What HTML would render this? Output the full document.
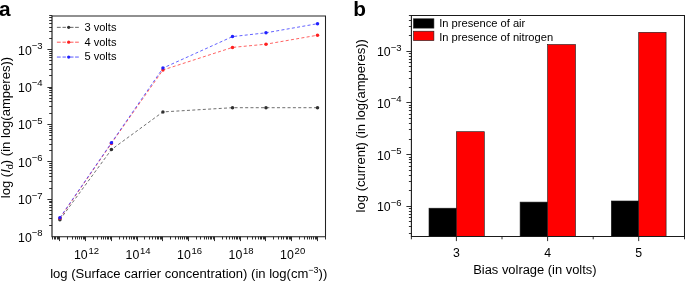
<!DOCTYPE html>
<html><head><meta charset="utf-8"><style>
html,body{margin:0;padding:0;background:#fff;width:685px;height:281px;overflow:hidden}
svg{display:block;will-change:transform}
text{font-family:"Liberation Sans",sans-serif;fill:#000}
</style></head><body>
<svg width="685" height="281" viewBox="0 0 685 281">
<path d="M52.0 16.0H325.5V236.7" fill="none" stroke="#222" stroke-width="1.05"/>
<path d="M52.0 15.5V236.7H326.0" fill="none" stroke="#1a1a1a" stroke-width="1.15"/>
<path d="M49.20 225.50H52.00 M49.20 218.50H52.00 M49.20 214.50H52.00 M49.20 210.50H52.00 M49.20 207.50H52.00 M49.20 205.50H52.00 M49.20 202.50H52.00 M49.20 201.50H52.00 M47.40 199.50H52.00 M49.20 188.50H52.00 M49.20 181.50H52.00 M49.20 176.50H52.00 M49.20 173.50H52.00 M49.20 170.50H52.00 M49.20 167.50H52.00 M49.20 165.50H52.00 M49.20 163.50H52.00 M47.40 161.50H52.00 M49.20 150.50H52.00 M49.20 144.50H52.00 M49.20 139.50H52.00 M49.20 135.50H52.00 M49.20 132.50H52.00 M49.20 130.50H52.00 M49.20 128.50H52.00 M49.20 126.50H52.00 M47.40 124.50H52.00 M49.20 113.50H52.00 M49.20 106.50H52.00 M49.20 101.50H52.00 M49.20 98.50H52.00 M49.20 95.50H52.00 M49.20 92.50H52.00 M49.20 90.50H52.00 M49.20 88.50H52.00 M47.40 87.50H52.00 M49.20 75.50H52.00 M49.20 69.50H52.00 M49.20 64.50H52.00 M49.20 60.50H52.00 M49.20 57.50H52.00 M49.20 55.50H52.00 M49.20 53.50H52.00 M49.20 51.50H52.00 M47.40 49.50H52.00 M49.20 38.50H52.00 M49.20 31.50H52.00 M49.20 27.50H52.00 M49.20 23.50H52.00 M49.20 20.50H52.00 M49.20 17.50H52.00 M49.20 15.50H52.00 M52.50 236.70V239.50 M54.50 236.70V239.50 M55.50 236.70V239.50 M57.50 236.70V239.50 M58.50 236.70V239.50 M59.50 236.70V241.10 M67.50 236.70V239.50 M72.50 236.70V239.50 M75.50 236.70V239.50 M77.50 236.70V239.50 M79.50 236.70V239.50 M81.50 236.70V239.50 M83.50 236.70V239.50 M84.50 236.70V239.50 M85.50 236.70V241.10 M93.50 236.70V239.50 M97.50 236.70V239.50 M101.50 236.70V239.50 M103.50 236.70V239.50 M105.50 236.70V239.50 M107.50 236.70V239.50 M108.50 236.70V239.50 M110.50 236.70V239.50 M111.50 236.70V241.10 M119.50 236.70V239.50 M123.50 236.70V239.50 M126.50 236.70V239.50 M129.50 236.70V239.50 M131.50 236.70V239.50 M133.50 236.70V239.50 M134.50 236.70V239.50 M136.50 236.70V239.50 M137.50 236.70V241.10 M144.50 236.70V239.50 M149.50 236.70V239.50 M152.50 236.70V239.50 M155.50 236.70V239.50 M157.50 236.70V239.50 M158.50 236.70V239.50 M160.50 236.70V239.50 M161.50 236.70V239.50 M162.50 236.70V241.10 M170.50 236.70V239.50 M175.50 236.70V239.50 M178.50 236.70V239.50 M180.50 236.70V239.50 M182.50 236.70V239.50 M184.50 236.70V239.50 M186.50 236.70V239.50 M187.50 236.70V239.50 M188.50 236.70V241.10 M196.50 236.70V239.50 M200.50 236.70V239.50 M204.50 236.70V239.50 M206.50 236.70V239.50 M208.50 236.70V239.50 M210.50 236.70V239.50 M211.50 236.70V239.50 M213.50 236.70V239.50 M214.50 236.70V241.10 M222.50 236.70V239.50 M226.50 236.70V239.50 M229.50 236.70V239.50 M232.50 236.70V239.50 M234.50 236.70V239.50 M236.50 236.70V239.50 M237.50 236.70V239.50 M239.50 236.70V239.50 M240.50 236.70V241.10 M247.50 236.70V239.50 M252.50 236.70V239.50 M255.50 236.70V239.50 M258.50 236.70V239.50 M260.50 236.70V239.50 M261.50 236.70V239.50 M263.50 236.70V239.50 M264.50 236.70V239.50 M265.50 236.70V241.10 M273.50 236.70V239.50 M278.50 236.70V239.50 M281.50 236.70V239.50 M283.50 236.70V239.50 M286.50 236.70V239.50 M287.50 236.70V239.50 M289.50 236.70V239.50 M290.50 236.70V239.50 M291.50 236.70V241.10 M299.50 236.70V239.50 M304.50 236.70V239.50 M307.50 236.70V239.50 M309.50 236.70V239.50 M311.50 236.70V239.50 M313.50 236.70V239.50 M315.50 236.70V239.50 M316.50 236.70V239.50 M317.50 236.70V241.10 M325.50 236.70V239.50" stroke="#1a1a1a" stroke-width="0.9" fill="none"/>
<text x="42.6" y="241.80" text-anchor="end" font-size="12.3">10<tspan font-size="9.5" dy="-5.6">−8</tspan></text>
<text x="42.6" y="204.35" text-anchor="end" font-size="12.3">10<tspan font-size="9.5" dy="-5.6">−7</tspan></text>
<text x="42.6" y="166.90" text-anchor="end" font-size="12.3">10<tspan font-size="9.5" dy="-5.6">−6</tspan></text>
<text x="42.6" y="129.45" text-anchor="end" font-size="12.3">10<tspan font-size="9.5" dy="-5.6">−5</tspan></text>
<text x="42.6" y="92.00" text-anchor="end" font-size="12.3">10<tspan font-size="9.5" dy="-5.6">−4</tspan></text>
<text x="42.6" y="54.55" text-anchor="end" font-size="12.3">10<tspan font-size="9.5" dy="-5.6">−3</tspan></text>
<text x="86.56" y="259" text-anchor="middle" font-size="12.3">10<tspan font-size="9.5" dx="0.8" dy="-5.0">12</tspan></text>
<text x="138.08" y="259" text-anchor="middle" font-size="12.3">10<tspan font-size="9.5" dx="0.8" dy="-5.0">14</tspan></text>
<text x="189.60" y="259" text-anchor="middle" font-size="12.3">10<tspan font-size="9.5" dx="0.8" dy="-5.0">16</tspan></text>
<text x="241.12" y="259" text-anchor="middle" font-size="12.3">10<tspan font-size="9.5" dx="0.8" dy="-5.0">18</tspan></text>
<text x="292.64" y="259" text-anchor="middle" font-size="12.3">10<tspan font-size="9.5" dx="0.8" dy="-5.0">20</tspan></text>
<text x="50.2" y="278.3" font-size="13.05">log (Surface carrier concentration) (in log(cm<tspan font-size="9" dy="-5">−3</tspan><tspan dy="5">))</tspan></text>
<text transform="translate(10.2,198.2) rotate(-90)" font-size="13.05">log (<tspan font-style="italic">I</tspan><tspan font-size="9" dy="2.5">d</tspan><tspan dy="-2.5">) (in log(amperes))</tspan></text>
<polyline points="59.90,219.70 111.42,149.60 162.94,111.90 232.49,107.70 265.98,107.70 317.50,107.70" fill="none" stroke="#303030" stroke-width="0.7" stroke-dasharray="3.0 2.3"/>
<polyline points="59.90,218.30 111.42,143.40 162.94,70.00 232.49,47.40 265.98,44.20 317.50,35.20" fill="none" stroke="#ff2020" stroke-width="0.7" stroke-dasharray="3.0 2.3"/>
<polyline points="59.90,217.70 111.42,142.80 162.94,68.10 232.49,36.60 265.98,32.80 317.50,23.70" fill="none" stroke="#2020ff" stroke-width="0.7" stroke-dasharray="3.0 2.3"/>
<circle cx="59.90" cy="219.70" r="1.75" fill="#303030"/>
<circle cx="111.42" cy="149.60" r="1.75" fill="#303030"/>
<circle cx="162.94" cy="111.90" r="1.75" fill="#303030"/>
<circle cx="232.49" cy="107.70" r="1.75" fill="#303030"/>
<circle cx="265.98" cy="107.70" r="1.75" fill="#303030"/>
<circle cx="317.50" cy="107.70" r="1.75" fill="#303030"/>
<circle cx="59.90" cy="218.30" r="1.75" fill="#ff2020"/>
<circle cx="111.42" cy="143.40" r="1.75" fill="#ff2020"/>
<circle cx="162.94" cy="70.00" r="1.75" fill="#ff2020"/>
<circle cx="232.49" cy="47.40" r="1.75" fill="#ff2020"/>
<circle cx="265.98" cy="44.20" r="1.75" fill="#ff2020"/>
<circle cx="317.50" cy="35.20" r="1.75" fill="#ff2020"/>
<circle cx="59.90" cy="217.70" r="1.75" fill="#2020ff"/>
<circle cx="111.42" cy="142.80" r="1.75" fill="#2020ff"/>
<circle cx="162.94" cy="68.10" r="1.75" fill="#2020ff"/>
<circle cx="232.49" cy="36.60" r="1.75" fill="#2020ff"/>
<circle cx="265.98" cy="32.80" r="1.75" fill="#2020ff"/>
<circle cx="317.50" cy="23.70" r="1.75" fill="#2020ff"/>
<path d="M56.9 27.35H60.7M62.5 27.35H65.9M67.3 27.35H73.5M75.1 27.35H78.8" stroke="#303030" stroke-width="0.75"/>
<circle cx="68.7" cy="27.35" r="1.6" fill="#303030"/>
<text x="84.4" y="30.65" font-size="11.1">3 volts</text>
<path d="M56.9 42.20H60.7M62.5 42.20H65.9M67.3 42.20H73.5M75.1 42.20H78.8" stroke="#ff2020" stroke-width="0.75"/>
<circle cx="68.7" cy="42.20" r="1.6" fill="#ff2020"/>
<text x="84.4" y="45.50" font-size="11.1">4 volts</text>
<path d="M56.9 57.05H60.7M62.5 57.05H65.9M67.3 57.05H73.5M75.1 57.05H78.8" stroke="#2020ff" stroke-width="0.75"/>
<circle cx="68.7" cy="57.05" r="1.6" fill="#2020ff"/>
<text x="84.4" y="60.35" font-size="11.1">5 volts</text>
<text x="-1.0" y="15.7" font-weight="bold" font-size="20.8">a</text>
<rect x="429.0" y="208.2" width="27.40" height="28.30" fill="#000" stroke="#1a1a1a" stroke-width="0.6"/>
<rect x="456.4" y="131.7" width="27.90" height="104.80" fill="#ff0000" stroke="#1a1a1a" stroke-width="0.6"/>
<rect x="520.1" y="202.1" width="27.50" height="34.40" fill="#000" stroke="#1a1a1a" stroke-width="0.6"/>
<rect x="547.6" y="44.5" width="27.90" height="192.00" fill="#ff0000" stroke="#1a1a1a" stroke-width="0.6"/>
<rect x="611.3" y="201.0" width="27.40" height="35.50" fill="#000" stroke="#1a1a1a" stroke-width="0.6"/>
<rect x="638.7" y="32.3" width="27.40" height="204.20" fill="#ff0000" stroke="#1a1a1a" stroke-width="0.6"/>
<path d="M411.4 15.5H684.5V236.5" fill="none" stroke="#1a1a1a" stroke-width="1.05"/>
<path d="M411.4 15.0V236.5H685.0" fill="none" stroke="#1a1a1a" stroke-width="1.1"/>
<path d="M408.90 233.50H411.40 M408.90 226.50H411.40 M408.90 221.50H411.40 M408.90 217.50H411.40 M408.90 214.50H411.40 M408.90 211.50H411.40 M408.90 208.50H411.40 M406.40 206.50H411.40 M408.90 190.50H411.40 M408.90 181.50H411.40 M408.90 175.50H411.40 M408.90 170.50H411.40 M408.90 166.50H411.40 M408.90 162.50H411.40 M408.90 159.50H411.40 M408.90 157.50H411.40 M406.40 154.50H411.40 M408.90 139.50H411.40 M408.90 129.50H411.40 M408.90 123.50H411.40 M408.90 118.50H411.40 M408.90 114.50H411.40 M408.90 110.50H411.40 M408.90 107.50H411.40 M408.90 105.50H411.40 M406.40 102.50H411.40 M408.90 87.50H411.40 M408.90 78.50H411.40 M408.90 71.50H411.40 M408.90 66.50H411.40 M408.90 62.50H411.40 M408.90 59.50H411.40 M408.90 56.50H411.40 M408.90 53.50H411.40 M406.40 51.50H411.40 M408.90 35.50H411.40 M408.90 26.50H411.40 M408.90 20.50H411.40 M408.90 15.50H411.40 M456.40 236.50V241.10 M547.60 236.50V241.10 M638.70 236.50V241.10 M502.00 236.50V239.30 M593.20 236.50V239.30 M411.40 236.50V239.30 M684.50 236.50V239.30" stroke="#1a1a1a" stroke-width="0.9" fill="none"/>
<text x="401.5" y="211.39" text-anchor="end" font-size="12.3">10<tspan font-size="9.5" dy="-5.6">−6</tspan></text>
<text x="401.5" y="159.66" text-anchor="end" font-size="12.3">10<tspan font-size="9.5" dy="-5.6">−5</tspan></text>
<text x="401.5" y="107.93" text-anchor="end" font-size="12.3">10<tspan font-size="9.5" dy="-5.6">−4</tspan></text>
<text x="401.5" y="56.20" text-anchor="end" font-size="12.3">10<tspan font-size="9.5" dy="-5.6">−3</tspan></text>
<text x="456.40" y="257.2" text-anchor="middle" font-size="12.3">3</text>
<text x="547.60" y="257.2" text-anchor="middle" font-size="12.3">4</text>
<text x="638.70" y="257.2" text-anchor="middle" font-size="12.3">5</text>
<text x="473.2" y="274.1" font-size="12.92">Bias volrage (in volts)</text>
<text transform="translate(364.9,212.4) rotate(-90)" font-size="13.05">log (current) (in log(amperes))</text>
<rect x="413.5" y="18.8" width="20.4" height="9.3" fill="#000" stroke="#1a1a1a" stroke-width="0.6"/>
<rect x="413.5" y="31.2" width="20.4" height="9.4" fill="#ff0000" stroke="#1a1a1a" stroke-width="0.6"/>
<text x="439.2" y="26.8" font-size="11.15">In presence of air</text>
<text x="439.2" y="40.5" font-size="11.15">In presence of nitrogen</text>
<text x="353.3" y="16" font-weight="bold" font-size="20.8">b</text>
</svg>
</body></html>
